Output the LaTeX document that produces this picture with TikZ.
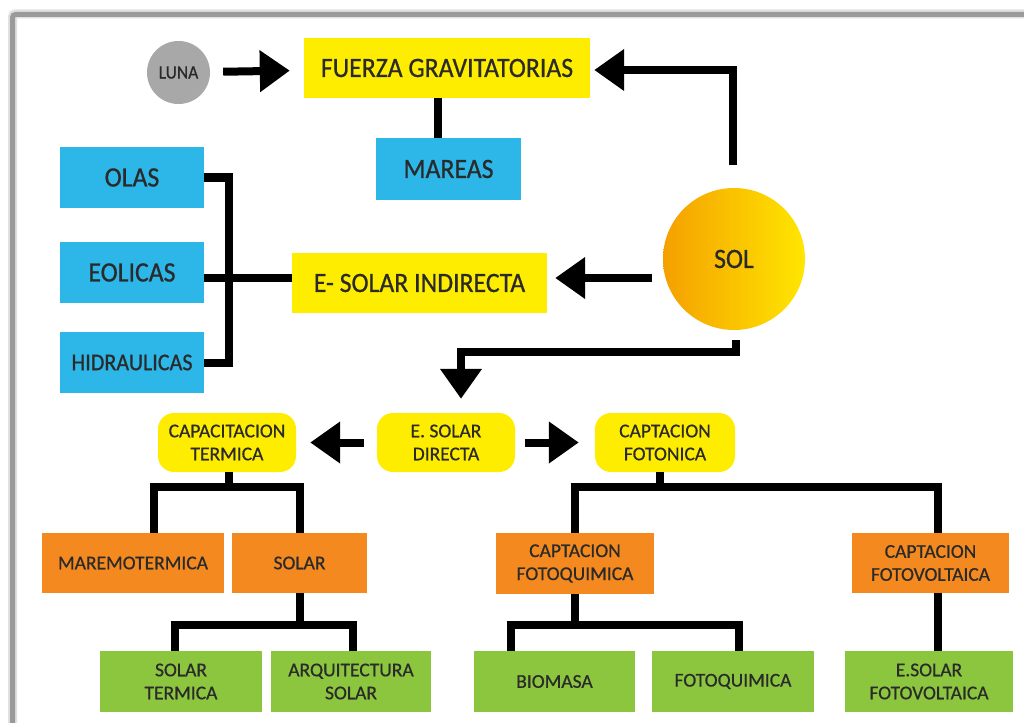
\documentclass[tikz,border=0pt]{standalone}
\usepackage{fontspec}
\setmainfont{Carlito}[FakeBold=0.6]
\newfontfamily\condfont{Carlito}[FakeBold=0.7, FakeStretch=0.92]
\usetikzlibrary{arrows.meta,calc}

\definecolor{ylw}{HTML}{FFED00}
\definecolor{blu}{HTML}{2DB6E8}
\definecolor{org}{HTML}{F4891F}
\definecolor{grn}{HTML}{8CC63F}
\definecolor{txt}{HTML}{2A2A2A}
\definecolor{moon}{HTML}{A8A8A8}
\definecolor{sunL}{HTML}{F5A000}
\definecolor{sunR}{HTML}{FFE600}
\definecolor{frame}{HTML}{9A9A9A}

\begin{document}
\begin{tikzpicture}[x=1pt,y=-1pt,
  box/.style={rectangle, inner sep=0pt, text=txt, align=center},
  bigtxt/.style={font=\condfont\fontsize{28}{30}\selectfont},
  midtxt/.style={font=\condfont\fontsize{24}{26}\selectfont},
  smalltxt/.style={font=\fontsize{19.5}{23}\selectfont},
  yelbox/.style={box, fill=ylw},
  blubox/.style={box, fill=blu},
  orgbox/.style={box, fill=org},
  grnbox/.style={box, fill=grn},
  pill/.style={box, fill=ylw, rounded corners=16pt},
  link/.style={line width=8pt, draw=black},
  arr/.style={link, -{Triangle[length=30pt,width=40pt]}},
]
\useasboundingbox (0,0) rectangle (1024,722);

% window frame with soft shadow
\draw[line width=9pt, black!12, rounded corners=3pt] (12.5,730) -- (12.5,14) -- (1040,14);
\draw[line width=5pt, frame, rounded corners=3pt] (12.5,730) -- (12.5,14.5) -- (1040,14.5);

% ---- nodes ----
\node[circle, fill=moon, minimum size=63pt, inner sep=0pt, text=txt,
      font=\condfont\fontsize{19}{20}\selectfont] (luna) at (178.5,72.5) {LUNA};
\node[yelbox, bigtxt, minimum width=286pt, minimum height=60pt] (fuerza) at (447,68) {FUERZA GRAVITATORIAS};
\node[blubox, bigtxt, minimum width=145pt, minimum height=62pt] (mareas) at (448.5,169) {MAREAS};

\node[blubox, bigtxt, minimum width=144pt, minimum height=61pt] (olas) at (132,177.5) {OLAS};
\node[blubox, bigtxt, minimum width=144pt, minimum height=61pt] (eolicas) at (132,272.5) {EOLICAS};
\node[blubox, midtxt, minimum width=144pt, minimum height=61pt] (hidra) at (132,362.5) {HIDRAULICAS};
\node[yelbox, bigtxt, minimum width=255pt, minimum height=60pt] (indirecta) at (419.5,283) {E- SOLAR INDIRECTA};

\node[circle, minimum size=142pt, inner sep=0pt, left color=sunL, right color=sunR,
      text=txt, bigtxt] (sol) at (734,259) {\raisebox{-9pt}{SOL}};

\node[pill, smalltxt, minimum width=138pt, minimum height=59pt] (directa) at (446,442.5) {E. SOLAR\\DIRECTA};
\node[pill, smalltxt, minimum width=138pt, minimum height=59pt] (capter) at (227,442.5) {CAPACITACION\\TERMICA};
\node[pill, smalltxt, minimum width=140pt, minimum height=59pt] (fotonica) at (665,442.5) {CAPTACION\\FOTONICA};

\node[orgbox, smalltxt, minimum width=182pt, minimum height=60pt] (maremo) at (133,563) {MAREMOTERMICA};
\node[orgbox, smalltxt, minimum width=135pt, minimum height=60pt] (solar) at (299.5,563) {SOLAR};
\node[orgbox, smalltxt, minimum width=158pt, minimum height=61pt] (cfq) at (575,563.5) {CAPTACION\\FOTOQUIMICA};
\node[orgbox, smalltxt, minimum width=157pt, minimum height=60pt] (cfv) at (930.5,563) {CAPTACION\\FOTOVOLTAICA};

\node[grnbox, smalltxt, minimum width=162pt, minimum height=61pt] (stermica) at (181,681.5) {SOLAR\\TERMICA};
\node[grnbox, smalltxt, minimum width=160pt, minimum height=61pt] (arq) at (351,681.5) {ARQUITECTURA\\SOLAR};
\node[grnbox, smalltxt, minimum width=161pt, minimum height=61pt] (biomasa) at (554.5,681.5) {BIOMASA};
\node[grnbox, smalltxt, minimum width=162pt, minimum height=61pt] (fotoq) at (733,681.5) {FOTOQUIMICA};
\node[grnbox, smalltxt, minimum width=168pt, minimum height=61pt] (efv) at (929,681.5) {E.SOLAR\\FOTOVOLTAICA};

% ---- connectors ----
\draw[arr, shorten <=13pt, shorten >=14pt] (luna) -- (fuerza);
\draw[link] ([xshift=-9pt]fuerza.south) -- ([xshift=-9pt]fuerza.south |- mareas.north);
\draw[arr, shorten <=23pt, shorten >=4pt] ([xshift=-1pt]sol.north) |- ([yshift=-2pt]fuerza.east);
\draw[arr, shorten <=11pt, shorten >=8pt] ([yshift=5pt]sol.west |- indirecta.east) -- ([yshift=5pt]indirecta.east);

% indirect solar energy bracket
\coordinate (bx) at (229,0);
\draw[link] (olas.east) -| (bx |- eolicas.east) |- (hidra.east);
\draw[link] ([yshift=-5pt]eolicas.east) -- ([yshift=-5pt]eolicas.east -| indirecta.west);

% direct solar energy
\draw[arr, shorten <=10pt, shorten >=14pt] ([xshift=2pt]sol.south) -- ++(0,22) -| ([xshift=15pt]directa.north);
\draw[arr, shorten <=13pt, shorten >=14pt] (directa.west) -- (capter.east);
\draw[arr, shorten <=10pt, shorten >=16pt] (directa.east) -- (fotonica.west);

% thermal branch
\draw[link] ([xshift=2pt]capter.south) -- ++(0,15) coordinate (tb);
\draw[link] ([xshift=21pt]maremo.north) |- (tb) -| (solar.north);
\draw[link] (solar.south) -- ++(0,32) coordinate (sb);
\draw[link] ([xshift=-6pt]stermica.north) |- (sb) -| ([xshift=2pt]arq.north);

% photonic branch
\draw[link] ([xshift=-5pt]fotonica.south) -- ++(0,15) coordinate (fb);
\draw[link] (cfq.north) |- (fb) -| ([xshift=7pt]cfv.north);
\draw[link] (cfq.south) -- ++(0,31) coordinate (qb);
\draw[link] ([xshift=-44pt]biomasa.north) |- (qb) -| ([xshift=6pt]fotoq.north);
\draw[link] ([xshift=7pt]cfv.south) -- ([xshift=7pt]cfv.south |- efv.north);
\end{tikzpicture}
\end{document}
